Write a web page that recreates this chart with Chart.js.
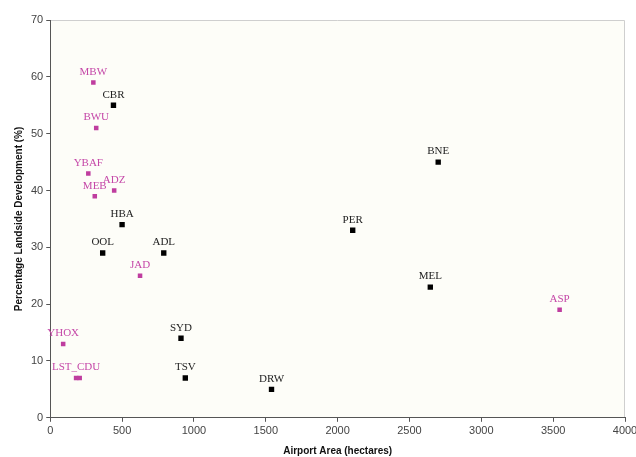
<!DOCTYPE html>
<html>
<head>
<meta charset="utf-8">
<script src="https://cdn.jsdelivr.net/npm/chart.js@4.4.1/dist/chart.umd.min.js"></script>
<style>
  html, body { margin: 0; padding: 0; background: #fff; }
  #wrap { width: 636px; height: 457px; }
</style>
</head>
<body>
<div id="wrap"><canvas id="myChart" width="636" height="457"></canvas></div>
<script>
// major airports (black) and smaller / regional ones (magenta)
var majorCodes = ['CBR', 'HBA', 'OOL', 'ADL', 'SYD', 'TSV', 'DRW', 'PER', 'BNE', 'MEL'];
var majorArea = [440, 500, 365, 790, 910, 940, 1540, 2105, 2700, 2645];
var majorPct = [55, 34, 29, 29, 14, 7, 5, 33, 45, 23];

var otherCodes = ['MBW', 'BWU', 'YBAF', 'ADZ', 'MEB', 'JAD', 'YHOX', 'LST_CDU', '', 'ASP'];
var otherArea = [300, 320, 265, 445, 310, 625, 90, 180, 205, 3545];
var otherPct = [59, 51, 43, 40, 39, 25, 13, 7, 7, 19];

var xTicks = [0, 500, 1000, 1500, 2000, 2500, 3000, 3500, 4000];
var yTicks = [0, 10, 20, 30, 40, 50, 60, 70];

function toPoints(xs, ys) {
    return xs.map(function(x, i) { return { x: x, y: ys[i] }; });
}

var plotBox = {
    id: 'plotBox',
    beforeDraw: function(chart) {
        var a = chart.chartArea, c = chart.ctx;
        c.save();
        c.fillStyle = '#fdfdf8';
        c.fillRect(a.left, a.top, a.right - a.left, a.bottom - a.top);
        c.strokeStyle = '#cfcfcf';
        c.lineWidth = 1;
        c.beginPath();
        c.moveTo(a.left, a.top + 0.5);
        c.lineTo(a.right - 0.5, a.top + 0.5);
        c.lineTo(a.right - 0.5, a.bottom);
        c.stroke();
        c.restore();
    }
};

var pointLabels = {
    id: 'pointLabels',
    afterDatasetsDraw: function(chart) {
        var c = chart.ctx;
        c.save();
        c.font = '11px "Liberation Serif", "Times New Roman", serif';
        c.textAlign = 'center';
        c.textBaseline = 'bottom';
        chart.data.datasets.forEach(function(ds, di) {
            var meta = chart.getDatasetMeta(di);
            meta.data.forEach(function(pt, i) {
                var txt = ds.codes[i];
                if (!txt) return;
                c.fillStyle = ds.labelColor;
                c.fillText(txt, pt.x, pt.y - 5);
            });
        });
        c.restore();
    }
};

var tickFont = { family: '"Liberation Sans", Arial, sans-serif', size: 11 };
var titleFont = { family: '"Liberation Sans", Arial, sans-serif', size: 10, weight: 'bold' };

var ctx = document.getElementById('myChart').getContext('2d');
var myChart = new Chart(ctx, {
    type: 'scatter',
    data: {
        datasets: [{
            label: 'Major',
            codes: majorCodes,
            labelColor: '#222',
            data: toPoints(majorArea, majorPct),
            pointStyle: 'rect',
            pointRadius: 3.8,
            backgroundColor: '#000',
            borderColor: '#000',
            borderWidth: 0
        }, {
            label: 'Other',
            codes: otherCodes,
            labelColor: '#c548a8',
            data: toPoints(otherArea, otherPct),
            pointStyle: 'rect',
            pointRadius: 3.2,
            backgroundColor: '#bf3d9f',
            borderColor: '#bf3d9f',
            borderWidth: 0
        }]
    },
    options: {
        responsive: false,
        animation: false,
        layout: { padding: { left: 13, top: 20, right: 0, bottom: 0 } },
        plugins: {
            legend: { display: false },
            tooltip: { enabled: false }
        },
        scales: {
            x: {
                type: 'linear',
                min: 0,
                max: 4000,
                afterBuildTicks: function(s) { s.ticks = xTicks.map(function(v) { return { value: v }; }); },
                afterFit: function(s) { s.paddingRight = 11; },
                ticks: { color: '#444', font: tickFont, padding: 3, maxRotation: 0,
                         callback: function(v) { return String(v); } },
                grid: { drawOnChartArea: false, tickLength: 4, color: '#555' },
                border: { color: '#555' },
                title: {
                    display: true,
                    text: 'Airport Area (hectares)',
                    color: '#111',
                    font: titleFont,
                    padding: { top: 4, bottom: 0 }
                }
            },
            y: {
                type: 'linear',
                min: 0,
                max: 70,
                afterBuildTicks: function(s) { s.ticks = yTicks.map(function(v) { return { value: v }; }); },
                ticks: { color: '#444', font: tickFont, padding: 3,
                         callback: function(v) { return String(v); } },
                grid: { drawOnChartArea: false, tickLength: 4, color: '#555' },
                border: { color: '#555' },
                title: {
                    display: true,
                    text: 'Percentage Landside Development (%)',
                    color: '#111',
                    font: titleFont,
                    padding: { top: 0, bottom: 3 }
                }
            }
        }
    },
    plugins: [plotBox, pointLabels]
});
</script>
</body>
</html>
